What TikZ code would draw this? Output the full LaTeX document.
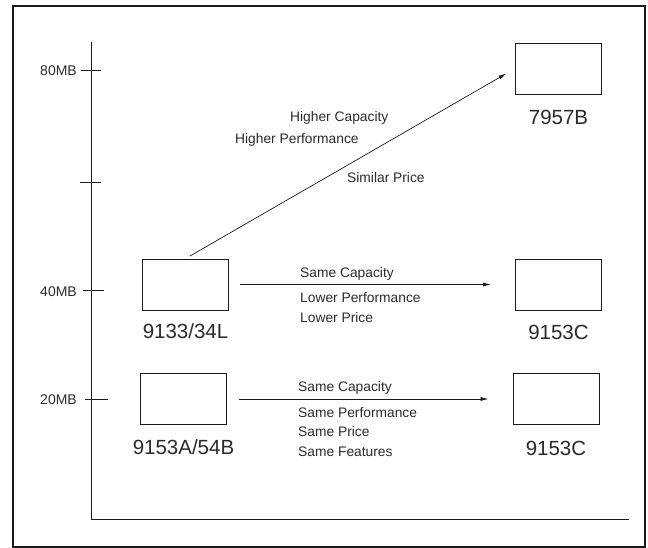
\documentclass[tikz,border=0pt]{standalone}
\usepackage{fontspec}
\setmainfont{Liberation Sans}
\usetikzlibrary{positioning,arrows.meta,calc}
\definecolor{INKc}{HTML}{1A1A1A}
\definecolor{TXTc}{HTML}{2A2A2A}

\begin{document}
\begin{tikzpicture}[
  x=1pt, y=-1pt,
  % product box: fixed size, all five are the same
  pbox/.style={draw=INKc, line width=0.8, minimum width=86pt, minimum height=51pt, inner sep=0pt},
  % model number under a box
  plab/.style={font=\fontsize{20.5}{23}\selectfont, color=TXTc, inner sep=0pt},
  % small text next to an arrow
  note/.style={font=\fontsize{13.8}{16}\selectfont, color=TXTc, inner sep=0pt, anchor=base west},
  % capacity on the axis
  axl/.style={font=\fontsize{14}{16}\selectfont, color=TXTc, inner sep=0pt, anchor=base east},
  % arrow style
  ar/.style={-{Latex[length=8pt,width=4pt]}, color=INKc, line width=0.7},
]
\useasboundingbox (0,0) rectangle (648,548);

% ---------- Frame ----------
\draw[INKc, line width=1.5] (13,6) rectangle (645,547);

% ---------- Axes and ticks ----------
\coordinate (O) at (91,519);
\coordinate (ytop) at (91,42);
\coordinate (xend) at (629,519);
\draw[INKc, line width=0.7] (ytop) -- (O) -- (xend);
\foreach \yy/\xa/\xb in {70/81/101, 182/80/101, 290/83/104, 399/85/108}
  \draw[INKc, line width=0.7] (\xa,\yy) -- (\xb,\yy);
\node[axl] (m80) at (77,76) {80MB};
\node[axl] (m40) at (77,296) {40MB};
\node[axl] (m20) at (77,404) {20MB};

% ---------- Product boxes ----------
\node[pbox] (b7957) at (558.5,68.5) {};
\node[pbox] (b34L)  at (185.5,284.5) {};
\node[pbox] (c153m) at (558.5,284.5) {};
\node[pbox] (b54B)  at (183.5,399) {};
\node[pbox] (c153b) at (556,399) {};

\node[plab, below=16pt of b7957] (l7957) {7957B};
\node[plab, below=13pt of b34L]  (l34L)  {9133/34L};
\node[plab, below=15pt of c153m] (l153m) {9153C};
\node[plab, below=15pt of b54B]  (l54B)  {9153A/54B};
\node[plab, below=16pt of c153b] (l153b) {9153C};

% ---------- 40MB -> 80MB ----------
\draw[ar, shorten <=5pt, shorten >=10pt] (b34L.north) -- (b7957.west);
\node[note] (n1) at (290,122) {Higher Capacity};
\node[note] (n2) at (235,144) {Higher Performance};
\node[note] (n3) at (347,183) {Similar Price};

% ---------- 40MB -> 9153C ----------
\draw[ar, shorten <=11pt, shorten >=24pt] (b34L.east) -- (c153m.west);
\node[note] (n4) at (300,277) {Same Capacity};
\node[note] (n5) at (300,302) {Lower Performance};
\node[note] (n6) at (300,322) {Lower Price};

% ---------- 20MB -> 9153C ----------
\draw[ar, shorten <=12.5pt, shorten >=24pt] (b54B.east) -- (c153b.west);
\node[note] (n7) at (298,391) {Same Capacity};
\node[note] (n8) at (298,417) {Same Performance};
\node[note] (n9) at (298,436) {Same Price};
\node[note] (n10) at (298,456) {Same Features};

\end{tikzpicture}
\end{document}
